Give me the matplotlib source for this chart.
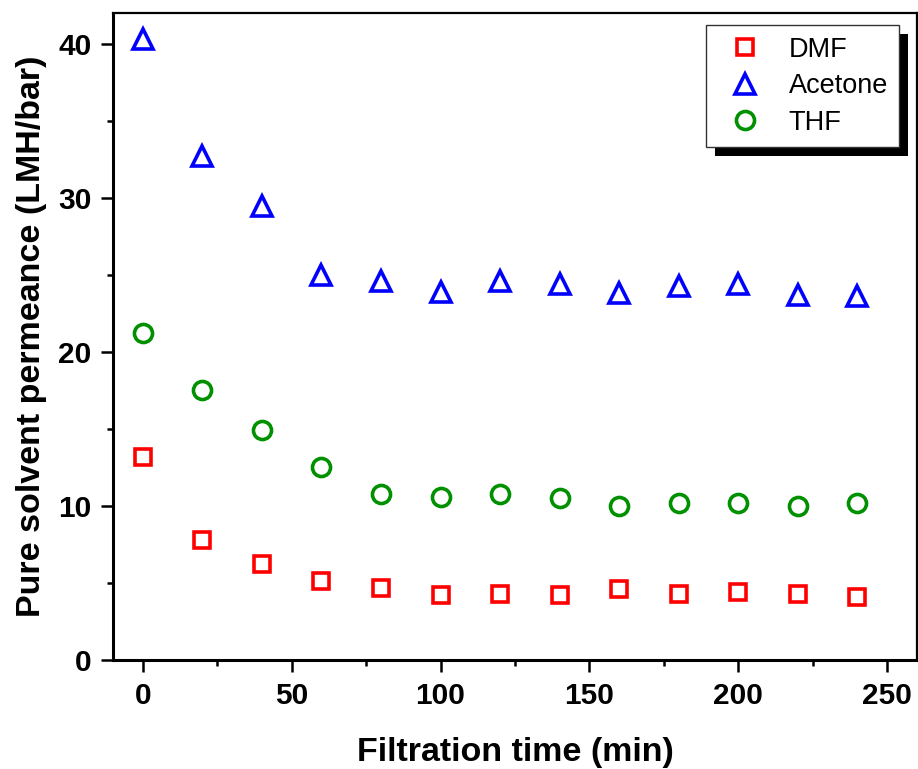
import matplotlib
matplotlib.use("Agg")
import matplotlib.pyplot as plt
import matplotlib.patheffects as pe
from matplotlib.ticker import MultipleLocator

time_min = [0, 20, 40, 60, 80, 100, 120, 140, 160, 180, 200, 220, 240]
dmf = [13.2, 7.8, 6.2, 5.1, 4.7, 4.2, 4.3, 4.2, 4.6, 4.3, 4.4, 4.3, 4.1]
acetone = [40.3, 32.7, 29.5, 25.0, 24.6, 23.9, 24.6, 24.4, 23.8, 24.3, 24.4, 23.7, 23.6]
thf = [21.2, 17.5, 14.9, 12.5, 10.8, 10.6, 10.8, 10.5, 10.0, 10.2, 10.2, 10.0, 10.2]

plt.rcParams['font.family'] = ['Liberation Sans', 'DejaVu Sans']

fig = plt.figure(figsize=(9.18, 7.69), dpi=100)
ax = fig.add_axes([113/918, (769-660)/769, (917-113)/918, 647/769])

ax.plot(time_min, dmf, linestyle='none', marker='s', markersize=11.5,
        markerfacecolor='none', markeredgecolor='#ff0000', markeredgewidth=2.6, label='DMF')
ax.plot(time_min, acetone, linestyle='none', marker='^', markersize=15,
        markerfacecolor='none', markeredgecolor='#0000ff', markeredgewidth=2.6, label='Acetone')
ax.plot(time_min, thf, linestyle='none', marker='o', markersize=13,
        markerfacecolor='none', markeredgecolor='#009000', markeredgewidth=2.6, label='THF')

ax.set_xlim(-10, 260)
ax.set_ylim(0, 42)
ax.xaxis.set_major_locator(MultipleLocator(50))
ax.xaxis.set_minor_locator(MultipleLocator(25))
ax.yaxis.set_major_locator(MultipleLocator(10))
ax.yaxis.set_minor_locator(MultipleLocator(5))

for s in ['left', 'bottom']:
    ax.spines[s].set_linewidth(2.2)
for s in ['top', 'right']:
    ax.spines[s].set_linewidth(1.6)

ax.tick_params(which='major', direction='out', length=8.5, width=1.8, pad=7,
               labelsize=21.5)
ax.tick_params(which='minor', direction='out', length=4.5, width=1.8)
ax.tick_params(top=False, right=False, which='both')
for lab in ax.get_xticklabels() + ax.get_yticklabels():
    lab.set_fontweight('bold')

ax.set_xlabel('Filtration time (min)', fontsize=24.5, fontweight='bold', labelpad=20)
ax.set_ylabel('Pure solvent permeance (LMH/bar)', fontsize=24.5, fontweight='bold', labelpad=8)

leg = ax.legend(loc='upper right', bbox_to_anchor=(0.978, 0.981), borderaxespad=0,
                fontsize=19.5, frameon=True, fancybox=False, numpoints=1,
                handlelength=2.0, handletextpad=0.62, labelspacing=0.39,
                borderpad=0.42)
frame = leg.get_frame()
frame.set_edgecolor('#333333')
frame.set_linewidth(1.0)
frame.set_alpha(1)
frame.set_path_effects([pe.SimplePatchShadow(offset=(6.5, -6.5), shadow_rgbFace='black', alpha=1.0),
                        pe.Normal()])

fig.savefig('out.png', dpi=100)
